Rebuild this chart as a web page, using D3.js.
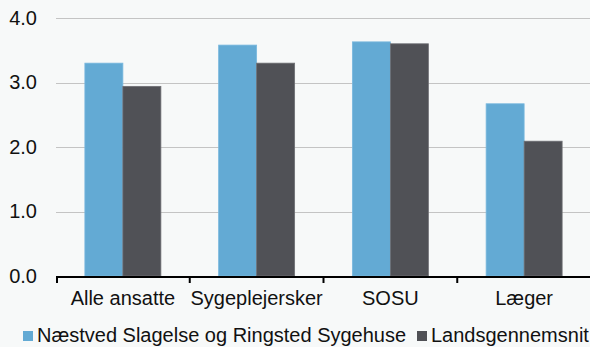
<!DOCTYPE html>
<html><head><meta charset="utf-8">
<script src="https://cdn.jsdelivr.net/npm/d3@7"></script>
<style>
html,body{margin:0;padding:0;background:#f7f9f9;}
svg{display:block;font-family:"Liberation Sans",Arial,sans-serif;}
</style></head>
<body>
<svg id="c" width="590" height="347"></svg>
<script>
const categories = ["Alle ansatte","Sygeplejersker","SOSU","Læger"];
const seriesNames = ["Næstved Slagelse og Ringsted Sygehuse","Landsgennemsnit"];
const hospitalValues = [3.30, 3.58, 3.63, 2.67];
const nationalValues = [2.94, 3.30, 3.60, 2.09];
const yTicks = [0, 1, 2, 3, 4];
const colors = ["#63aad4","#505156"];

(function () {
const svg = d3.select("#c");
const mLeft = 56, mRight = 591, mTop = 18, mBottom = 276;
const x = d3.scaleBand().domain(categories).range([mLeft, mRight]).paddingInner(0).paddingOuter(0);
const xi = d3.scaleBand().domain(seriesNames).range([0, x.bandwidth()]).paddingInner(0).paddingOuter(0.76);
const y = d3.scaleLinear().domain([0, 4]).range([mBottom, mTop]);

svg.append("g").selectAll("line").data(yTicks.filter(d => d > 0)).join("line")
  .attr("x1", mLeft).attr("x2", mRight)
  .attr("y1", d => Math.round(y(d)) + 0.5).attr("y2", d => Math.round(y(d)) + 0.5)
  .attr("stroke", "#c4c4c4").attr("stroke-width", 1.2);

const yAxis = d3.axisLeft(y).tickValues(yTicks).tickFormat(d3.format(".1f")).tickSize(0).tickPadding(0);
const gy = svg.append("g").attr("transform", "translate(37,0)").call(yAxis);
gy.select(".domain").remove();
gy.selectAll("text").attr("font-size", 20).attr("fill", "#111").attr("font-family", "Liberation Sans, Arial, sans-serif");

const data = categories.map((c, i) => ({c, vals: [hospitalValues[i], nationalValues[i]]}));
const groups = svg.append("g").selectAll("g").data(data).join("g")
  .attr("transform", d => `translate(${x(d.c)},0)`);
groups.selectAll("rect").data(d => d.vals.map((v, j) => ({v, s: seriesNames[j], j}))).join("rect")
  .attr("x", d => xi(d.s))
  .attr("width", xi.bandwidth())
  .attr("y", d => y(d.v))
  .attr("height", d => y(0) - y(d.v))
  .attr("fill", d => colors[d.j])
  .attr("stroke", d => d.j === 0 ? "#79b8de" : "#6e6f74")
  .attr("stroke-width", 0.8);

const xAxis = d3.axisBottom(x).tickSize(0).tickPadding(0);
const gx = svg.append("g").attr("transform", `translate(0,${mBottom})`).call(xAxis);
gx.select(".domain").remove();
gx.selectAll(".tick line").remove();
gx.selectAll("text").attr("y", 29).attr("dy", 0).attr("font-size", 20).attr("fill", "#111")
  .attr("font-family", "Liberation Sans, Arial, sans-serif");
svg.append("line").attr("x1", mLeft).attr("x2", mRight).attr("y1", mBottom + 1).attr("y2", mBottom + 1)
  .attr("stroke", "#000").attr("stroke-width", 2.2);
const boundaries = categories.map(c => x(c)).concat([mRight]);
svg.append("g").selectAll("line").data(boundaries).join("line")
  .attr("x1", d => Math.max(d, mLeft + 1)).attr("x2", d => Math.max(d, mLeft + 1))
  .attr("y1", mBottom + 1).attr("y2", mBottom + 7)
  .attr("stroke", "#000").attr("stroke-width", 2);

const legendItems = [{name: seriesNames[0], x: 23}, {name: seriesNames[1], x: 417}];
const lg = svg.append("g").selectAll("g").data(legendItems).join("g")
  .attr("transform", d => `translate(${d.x},0)`);
lg.append("rect").attr("x", 0).attr("y", 331).attr("width", 10).attr("height", 10)
  .attr("fill", (d, i) => colors[i]);
lg.append("text").attr("x", 14).attr("y", 342).attr("font-size", 20).attr("fill", "#111")
  .text(d => d.name);
})();
</script>
</body></html>
